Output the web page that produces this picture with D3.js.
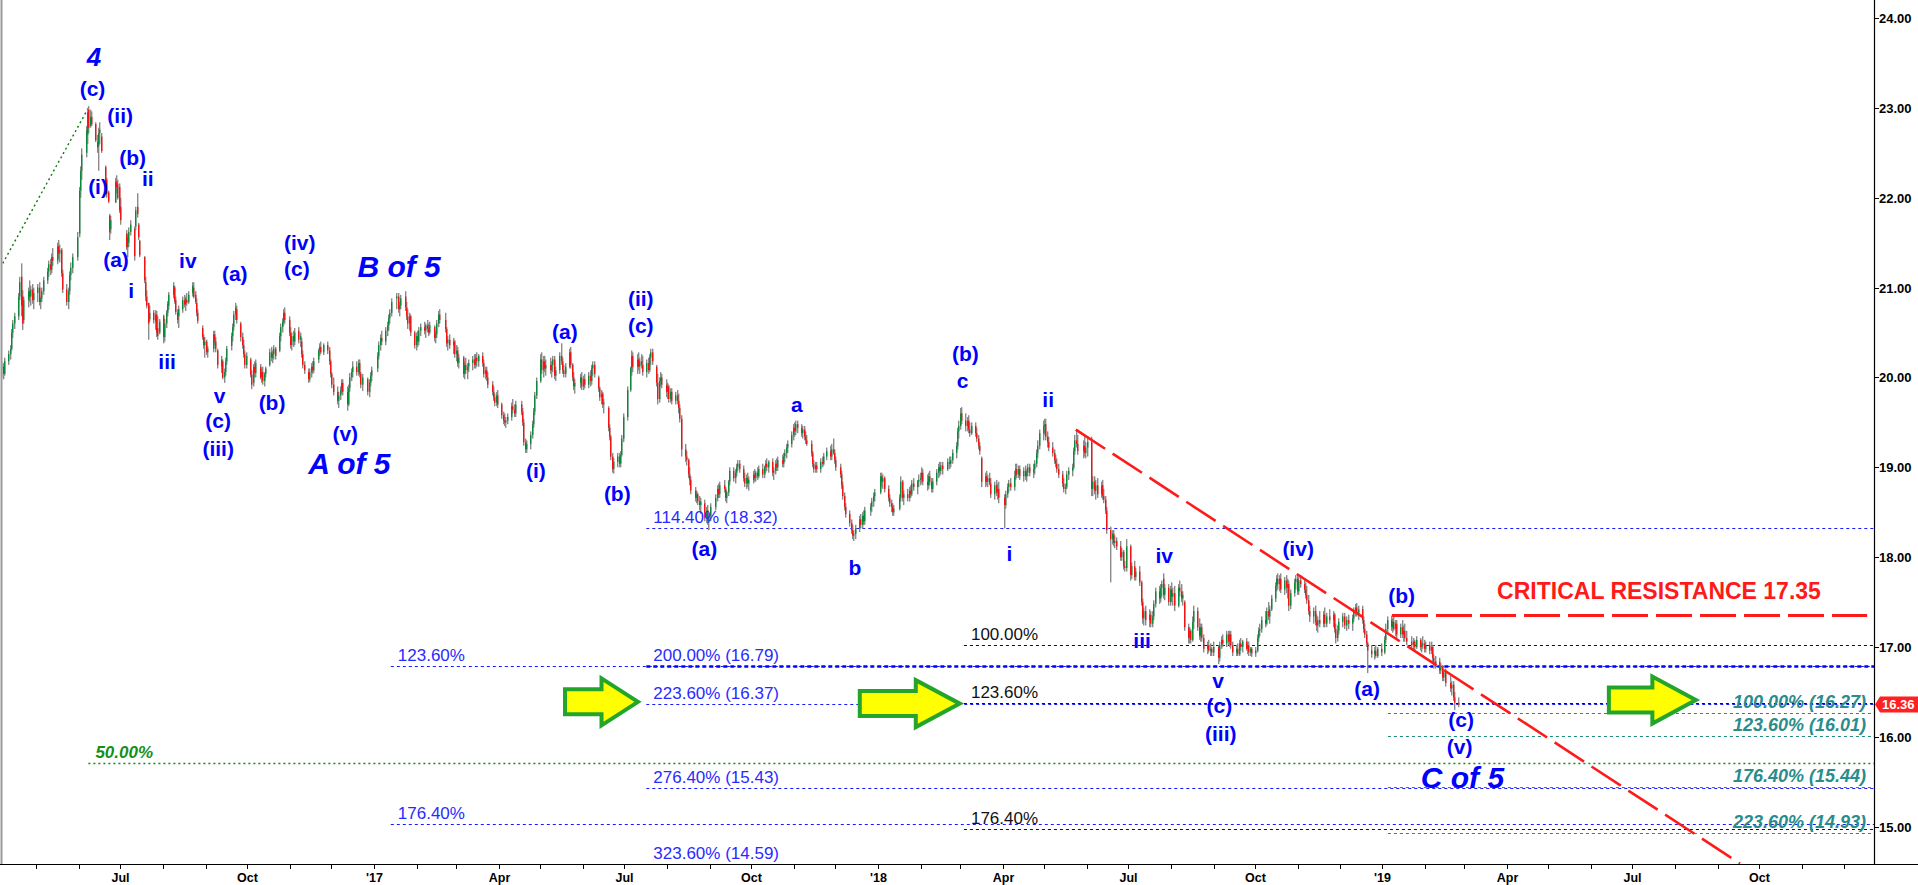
<!DOCTYPE html>
<html><head><meta charset="utf-8">
<script src="https://cdn.jsdelivr.net/npm/d3@7/dist/d3.min.js"></script>
<style>
html,body{margin:0;padding:0;background:#fff;overflow:hidden}
svg{display:block;font-family:"Liberation Sans",Arial,Helvetica,sans-serif}
</style></head><body>
<svg id="chart" width="1918" height="885"></svg>
<script>
// ===================== DATA =====================
// Daily bars [open, high, low, close] in cents above PRICE_BASE
const PRICE_BASE = 14;
const firstSession = "2016-04-06";
const holidays = ["2016-05-30","2016-07-04","2016-09-05","2016-11-24","2016-12-26",
 "2017-01-02","2017-01-16","2017-02-20","2017-04-14","2017-05-29","2017-07-04","2017-09-04","2017-11-23","2017-12-25",
 "2018-01-01","2018-01-15","2018-02-19","2018-03-30","2018-05-28","2018-07-04","2018-09-03","2018-11-22","2018-12-05","2018-12-25",
 "2019-01-01","2019-01-21","2019-02-18"];

const bars2016 = [
// Apr
[610,618,600,612],[612,616,598,604],[604,622,602,618],[618,630,614,626],[626,636,620,632],[632,654,630,650],[650,664,644,660],[660,672,654,668],[668,694,664,690],[690,712,686,706],[712,727,668,680],[690,697,653,660],[664,690,660,686],[686,700,678,696],[696,708,684,690],[690,702,680,698],[698,704,682,686],[686,700,676,694],
// May
[694,704,684,700],[700,706,680,684],[684,690,676,688],[688,700,684,696],[696,712,692,708],[708,722,704,718],[718,730,712,726],[726,732,714,720],[720,738,716,734],[734,744,724,730],[730,750,726,746],[746,753,732,738],[738,748,728,742],[742,744,712,716],[716,720,694,698],[698,704,680,684],[684,700,676,696],[696,718,692,714],[714,728,708,722],[722,738,716,734],[734,762,730,756],
// Jun
[760,812,756,808],[808,835,800,830],[830,855,820,848],[850,880,845,875],[870,900,860,895],[898,902,872,878],[880,898,878,890],[890,896,880,882],[882,884,862,864],[862,870,850,856],[858,878,830,872],[872,884,860,876],[868,872,850,852],[834,836,814,818],[820,822,800,804],[806,808,794,796],[780,782,753,762],[765,780,760,775],[795,822,794,818],[818,825,805,812],[815,820,798,800],[812,816,783,786],
// Jul
[790,800,770,775],[760,764,742,745],[745,760,734,756],[750,767,745,762],[762,775,758,770],[765,768,730,735],[768,790,764,786],[790,805,778,782],[770,772,753,756],[752,753,734,736],[734,735,705,708],[706,712,685,690],[690,697,677,680],[683,683,642,660],[665,680,662,672],[672,675,660,664],[662,675,653,670],[670,674,645,650],[655,668,642,646],[650,665,648,662],
// Aug
[668,670,638,645],[645,665,640,660],[660,675,655,672],[672,685,668,682],[680,695,675,692],[692,706,688,702],[700,702,682,685],[686,690,670,673],[672,676,660,664],[668,680,655,676],[676,690,672,686],[686,692,678,681],[682,690,674,688],[686,694,680,683],[684,696,682,692],[694,706,690,702],[700,706,688,690],[692,696,682,684],[683,688,668,672],[672,676,660,663],[655,658,642,645],[645,648,632,636],[636,645,622,640],
// Sep
[640,642,625,628],[628,635,622,632],[632,652,628,648],[648,652,636,640],[640,645,628,632],[630,632,610,614],[612,624,605,620],[618,620,598,600],[600,610,594,606],[606,622,602,618],[618,635,614,632],[635,650,630,646],[646,660,640,656],[656,674,652,670],[670,683,664,678],[676,680,660,664],[660,662,640,645],[645,650,632,636],[636,642,622,626],[626,630,610,614],[614,628,610,624],
// Oct
[620,622,600,603],[603,608,587,592],[594,615,590,612],[612,618,600,605],[605,620,600,616],[612,615,598,600],[600,610,594,606],[606,612,592,596],[596,606,590,604],[604,612,600,610],[614,632,612,628],[628,634,618,622],[622,630,616,626],[626,636,620,632],[632,634,620,624],[630,650,628,646],[646,660,640,656],[656,666,650,662],[662,676,658,672],[672,678,660,664],[664,668,646,650],
// Nov
[650,656,632,636],[636,650,630,646],[646,652,634,640],[640,655,636,650],[652,656,638,642],[642,650,634,646],[640,644,622,626],[626,630,610,614],[614,618,604,608],[606,610,594,598],[598,610,595,606],[606,616,600,612],[612,618,604,608],[608,622,605,618],[620,632,616,630],[630,638,624,634],[634,640,626,628],[628,638,625,636],[636,640,626,630],[630,634,614,618],[618,620,600,604],
// Dec
[604,606,588,592],[592,600,580,584],[584,590,570,574],[574,584,566,580],[580,590,575,586],[586,598,582,594],[594,598,580,584],[584,590,563,570],[570,592,568,588],[588,605,584,600],[600,610,596,606],[606,618,600,612],[612,618,602,606],[606,620,602,616],[616,620,600,604],[604,606,588,592],[592,604,585,600],[598,600,580,584],[584,598,578,594],[594,606,590,602],[602,612,596,608]
];

const bars2017 = [
// Jan
[610,628,606,624],[624,640,620,636],[636,648,630,644],[644,652,636,640],[640,656,636,652],[652,662,646,658],[658,670,652,666],[666,676,660,672],[672,688,668,684],[688,694,676,690],[690,694,672,676],[676,684,668,680],[680,692,676,688],[690,696,674,678],[678,684,664,668],[668,676,654,660],[660,672,652,668],[668,670,646,650],[650,652,632,636],[636,650,630,646],
// Feb
[646,652,634,640],[640,656,636,652],[652,660,646,656],[656,662,648,652],[652,660,644,658],[658,664,650,654],[654,660,646,650],[650,662,648,658],[656,658,640,644],[644,652,638,648],[648,664,644,660],[660,674,656,670],[670,676,660,664],[664,672,650,654],[654,656,634,638],[638,646,630,642],[642,648,632,636],[636,644,626,640],[640,642,622,626],
// Mar
[626,636,618,630],[630,634,612,616],[616,626,610,622],[622,624,600,604],[604,618,598,614],[614,622,604,608],[608,616,598,612],[612,620,606,616],[616,624,608,620],[620,626,610,614],[614,626,610,622],[622,628,612,618],[618,626,612,624],[624,628,612,616],[616,620,600,604],[604,612,598,608],[608,612,596,600],[600,606,588,592],[592,596,580,584],[584,590,574,578],[578,582,568,572],[572,584,568,580],[580,586,566,570],
// Apr
[570,572,554,558],[558,562,548,552],[552,560,546,550],[550,556,544,552],[552,560,548,556],[556,572,552,568],[568,576,560,564],[564,570,556,560],[560,574,556,570],[570,574,558,562],[562,566,546,550],[550,554,524,528],[528,532,516,520],[520,530,516,526],[526,540,520,536],[536,552,532,548],[548,566,544,562],[562,584,558,580],[580,600,576,596],
// May
[596,626,594,620],[620,628,604,608],[608,624,600,618],[618,624,606,610],[610,620,602,614],[614,622,604,608],[608,618,600,614],[614,624,606,620],[620,624,598,602],[602,612,596,608],[608,628,604,624],[624,638,614,618],[618,622,604,608],[608,614,600,604],[604,616,600,612],[612,632,610,628],[628,634,610,614],[614,616,596,600],[600,606,586,590],[590,598,582,594],[594,604,588,600],[600,606,586,590],
// Jun
[590,602,586,598],[598,604,588,592],[592,606,588,602],[602,608,590,596],[596,614,592,610],[610,618,602,614],[614,618,600,604],[600,602,584,588],[588,590,574,578],[578,586,570,582],[582,584,566,570],[570,576,560,572],[566,568,540,544],[544,548,530,534],[534,536,508,512],[512,516,494,498],[498,510,493,506],[506,516,500,512],[512,516,500,504],[504,518,500,514],[514,536,512,532],[532,560,528,556],
// Jul
[556,590,552,586],[586,612,584,610],[610,630,602,624],[624,628,606,612],[612,626,604,620],[620,628,608,612],[612,622,604,618],[618,626,610,614],[614,624,602,606],[606,620,600,616],[616,622,604,608],[608,626,606,622],[622,632,614,628],[628,632,614,618],[612,614,590,594],[594,604,570,576],[576,600,572,596],[596,606,590,600],[600,604,588,592],[592,598,578,584],
// Aug
[584,594,576,590],[590,592,572,576],[576,588,572,584],[584,588,570,574],[574,584,570,580],[580,586,570,574],[574,582,560,566],[566,570,550,554],[554,558,512,520],[520,526,506,512],[512,518,502,508],[508,510,488,492],[492,500,480,486],[486,490,470,474],[474,478,462,466],[466,474,460,470],[470,472,458,462],[462,468,452,458],[458,466,448,462],[460,464,440,444],[444,456,438,452],[452,458,436,440],[440,448,430,446],
// Sep
[446,460,440,456],[456,470,452,466],[466,480,462,476],[476,482,466,470],[470,484,466,480],[480,486,472,476],[476,478,462,466],[466,474,460,472],[472,486,468,484],[484,500,480,496],[496,500,484,488],[488,498,482,494],[494,504,490,500],[500,508,496,504],[504,508,494,498],[498,502,484,488],[488,494,478,482],[482,492,476,488],[488,494,478,482],[482,490,474,486],
// Oct
[486,496,482,492],[492,498,484,488],[488,496,484,494],[494,500,486,490],[490,502,488,498],[498,504,488,492],[492,502,488,500],[500,508,494,504],[504,510,496,500],[500,508,494,506],[506,510,490,494],[494,500,486,496],[496,508,492,504],[504,510,496,500],[500,512,496,508],[508,514,500,504],[504,516,500,512],[512,520,506,516],[516,526,510,522],[522,530,516,526],[526,540,522,536],[536,548,530,544],
// Nov
[544,550,534,540],[540,552,536,548],[548,552,538,544],[544,548,534,538],[538,546,532,542],[542,546,530,534],[534,540,526,530],[530,536,524,526],[526,530,512,516],[516,518,500,504],[504,508,494,498],[498,506,494,502],[502,506,494,498],[498,510,494,506],[506,512,500,504],[504,516,502,512],[512,522,508,518],[518,524,508,512],[512,526,508,520],[520,532,514,516],[516,520,504,508],
// Dec
[508,512,496,500],[500,504,488,492],[492,496,476,480],[480,484,464,468],[468,472,452,456],[456,460,444,448],[448,452,434,438],[438,442,426,430],[430,436,420,424],[424,430,418,426],[426,436,420,432],[432,446,428,442],[442,448,432,436],[436,450,432,446],[446,452,436,440],[440,456,436,452],[452,460,446,456],[456,466,450,462],[462,472,456,468],[468,476,462,472]
];

const bars2018 = [
// Jan
[472,494,470,490],[490,494,478,484],[484,492,476,488],[488,490,472,476],[476,480,462,466],[466,470,456,460],[460,464,450,456],[456,460,446,450],[450,458,446,454],[454,470,452,466],[466,490,462,484],[484,486,462,466],[466,474,458,470],[470,476,462,466],[466,478,462,474],[474,480,466,470],[470,486,468,482],[482,488,474,478],[478,486,470,484],[484,492,478,486],[486,494,480,488],
// Feb
[488,500,482,494],[494,498,480,484],[484,492,474,480],[480,494,476,490],[490,496,480,484],[484,488,472,476],[476,488,472,484],[484,498,480,494],[494,504,488,500],[500,506,490,496],[496,506,492,502],[502,506,492,498],[498,510,496,506],[506,512,498,504],[504,512,500,508],[508,520,504,516],[516,528,510,524],[524,544,520,540],[540,552,532,546],
// Mar
[546,566,542,560],[560,567,548,552],[552,560,540,546],[546,556,540,552],[552,558,538,542],[542,550,534,538],[538,550,536,546],[546,550,534,538],[538,544,528,532],[532,536,520,524],[524,528,514,518],[510,512,478,484],[484,494,478,490],[490,496,480,484],[484,492,478,488],[488,494,480,482],[482,488,466,470],[470,484,464,480],[480,486,468,472],[472,482,464,476],[476,484,460,466],
// Apr
[466,470,432,458],[458,474,454,470],[470,482,466,478],[478,486,472,482],[482,488,474,478],[478,496,474,490],[490,504,486,498],[498,504,488,492],[492,502,488,498],[498,502,486,490],[490,500,484,496],[496,502,486,490],[490,498,484,494],[494,504,490,500],[500,504,490,494],[494,504,488,498],[498,508,492,504],[504,520,500,516],[516,530,510,524],[524,542,520,538],[538,552,530,546],
// May
[546,554,536,548],[548,554,530,534],[534,540,522,528],[528,534,518,522],[522,528,512,516],[516,520,504,508],[508,514,500,504],[504,510,494,498],[498,504,488,492],[492,496,478,482],[482,488,472,476],[476,482,470,478],[478,496,476,492],[492,500,486,496],[496,504,490,500],[500,522,498,518],[518,536,514,530],[530,542,522,526],[526,536,514,518],[518,530,510,524],[524,534,512,516],[516,528,510,522],
// Jun
[522,534,512,528],[528,534,468,476],[476,490,468,484],[484,490,470,474],[474,486,464,480],[480,488,466,470],[470,484,466,480],[480,486,464,468],[468,476,460,464],[464,468,448,452],[452,456,426,430],[430,434,372,420],[420,430,414,426],[426,430,412,416],[416,424,410,418],[418,422,408,412],[412,418,396,400],[400,410,396,406],[406,408,386,390],[390,396,384,388],[388,420,384,412],
// Jul
[412,414,374,380],[380,394,376,390],[390,396,374,378],[378,388,374,384],[384,390,368,372],[372,374,346,350],[350,354,326,332],[332,344,324,340],[340,346,324,330],[330,342,322,336],[336,340,322,326],[326,340,322,334],[334,352,330,348],[348,366,344,362],[362,368,348,354],[354,370,350,366],[366,374,356,370],[376,382,354,358],[358,370,352,366],[366,370,346,350],[350,368,346,364],
// Aug
[364,372,350,356],[356,366,346,360],[360,368,340,346],[346,370,344,366],[366,374,356,362],[362,370,350,354],[354,362,346,358],[350,352,318,322],[322,326,304,310],[310,322,304,318],[318,320,304,308],[308,334,306,328],[328,346,320,340],[340,344,318,322],[322,332,308,312],[312,326,306,322],[322,326,306,310],[310,314,294,298],[298,306,292,302],[302,308,294,296],[296,304,290,298],[298,300,290,294],[294,306,290,300],
// Sep
[300,302,281,288],[288,306,284,302],[302,312,298,308],[308,314,300,304],[304,318,300,314],[314,318,302,306],[306,318,300,314],[314,318,298,302],[302,306,290,294],[294,302,290,298],[298,304,290,292],[292,308,290,304],[304,310,296,300],[300,308,294,306],[306,310,296,298],[298,306,292,302],[302,306,290,294],[294,300,290,298],[298,300,289,293],
// Oct
[293,300,289,296],[296,314,294,310],[310,322,306,318],[318,326,312,320],[320,334,316,330],[330,340,322,326],[326,344,324,340],[340,350,330,334],[334,346,326,342],[342,358,340,354],[354,372,350,368],[368,380,362,376],[376,382,364,370],[370,380,362,376],[376,382,360,364],[364,378,358,374],[374,380,360,366],[366,376,354,370],[370,374,340,346],[346,364,342,360],[360,376,356,372],[372,380,364,376],[376,380,358,362],
// Nov
[362,378,358,374],[374,380,366,370],[370,376,360,364],[364,372,354,358],[358,368,348,352],[352,358,336,340],[340,346,328,334],[334,344,326,340],[340,346,324,328],[328,336,318,324],[324,334,316,330],[330,340,322,326],[326,340,322,336],[336,344,322,326],[326,338,322,334],[334,342,326,330],[330,340,322,336],[336,338,316,320],[320,326,304,310],[310,324,306,318],[318,332,314,328],
// Dec
[328,338,322,334],[334,338,320,324],[324,334,318,330],[330,336,320,326],[326,336,318,332],[332,344,328,340],[340,348,334,344],[344,349,334,338],[338,346,330,342],[342,346,326,330],[330,334,316,320],[320,326,310,314],[314,318,300,304],[304,306,271,296],[296,302,288,292],[292,300,286,296],[296,302,288,290],[290,300,288,298],[298,304,290,294]
];

const bars2019 = [
// Jan
[294,312,292,308],[308,326,304,320],[320,334,316,330],[330,335,318,322],[322,332,316,328],[328,334,318,320],[320,330,312,326],[326,330,310,314],[314,326,310,322],[322,330,310,314],[314,324,306,318],[318,326,306,310],[310,318,302,306],[306,312,298,302],[302,310,296,306],[306,308,296,300],[300,312,298,308],[308,310,296,300],[300,306,294,302],[302,312,298,304],[304,308,294,298],
// Feb
[298,306,294,302],[302,306,292,296],[296,306,292,300],[300,302,284,288],[288,292,276,280],[280,290,276,284],[284,288,270,274],[274,282,270,278],[278,280,262,266],[266,276,262,272],[272,276,256,260],[260,268,250,254],[254,262,246,258],[258,262,240,244],[244,250,230,238],[238,244,233,236]
];

const yTickValues = [15,16,17,18,19,20,21,22,23,24];
const lastPrice = 16.36;

// Elliott wave labels: [text, date, price, style]
const waveLabels = [
 ["4","2016-06-12",23.57,"num"],["(c)","2016-06-11",23.22,"w"],["(ii)","2016-07-01",22.91,"w"],["(b)","2016-07-10",22.45,"w"],
 ["ii","2016-07-21",22.21,"w"],["(i)","2016-06-15",22.12,"w"],["(a)","2016-06-28",21.31,"w"],["i","2016-07-09",20.97,"w"],
 ["iv","2016-08-19",21.30,"w"],["iii","2016-08-04",20.18,"w"],["(a)","2016-09-22",21.16,"w"],["(iv)","2016-11-08",21.50,"w"],
 ["(c)","2016-11-06",21.21,"w"],["B of 5","2017-01-19",21.23,"big"],["v","2016-09-11",19.80,"w"],["(b)","2016-10-19",19.72,"w"],
 ["(c)","2016-09-10",19.52,"w"],["(iii)","2016-09-10",19.21,"w"],["(v)","2016-12-11",19.38,"w"],["A of 5","2016-12-14",19.04,"big"],
 ["(i)","2017-04-28",18.96,"w"],["(a)","2017-05-19",20.51,"w"],["(ii)","2017-07-13",20.88,"w"],["(c)","2017-07-13",20.58,"w"],
 ["(b)","2017-06-26",18.71,"w"],["a","2017-11-03",19.70,"w"],["(a)","2017-08-28",18.10,"w"],["b","2017-12-15",17.88,"w"],
 ["(b)","2018-03-05",20.27,"w"],["c","2018-03-03",19.97,"w"],["ii","2018-05-04",19.76,"w"],["i","2018-04-06",18.04,"w"],
 ["iv","2018-07-27",18.02,"w"],["iii","2018-07-11",17.07,"w"],["(iv)","2018-11-01",18.10,"w"],["v","2018-09-04",16.63,"w"],
 ["(c)","2018-09-05",16.35,"w"],["(iii)","2018-09-06",16.04,"w"],["(a)","2018-12-21",16.54,"w"],["(b)","2019-01-15",17.57,"w"],
 ["(c)","2019-02-27",16.19,"w"],["(v)","2019-02-26",15.89,"w"],["C of 5","2019-02-28",15.55,"big"]
];

// Fibonacci levels: [price, start date, set]
const fibLevels = [
 [18.32,"2017-07-17","blue"],[16.79,"2017-01-13","blue"],[16.79,"2017-07-17","blueHeavy"],[16.37,"2017-07-17","blue"],
 [15.43,"2017-07-17","blue"],[15.03,"2017-01-13","blue"],[14.59,"2017-07-17","blue"],
 [17.02,"2018-03-04","black"],[16.38,"2018-03-04","black"],[14.98,"2018-03-04","black"],
 [15.71,"2016-06-08","green"],
 [16.27,"2019-01-05","teal"],[16.01,"2019-01-05","teal"],[15.44,"2019-01-05","teal"],[14.93,"2019-01-05","teal"]
];
// Fibonacci texts: [text, start date, price, set]
const fibTexts = [
 ["114.40% (18.32)","2017-07-17",18.32,"blue"],["123.60%","2017-01-13",16.79,"blue"],["200.00% (16.79)","2017-07-17",16.79,"blue"],
 ["223.60% (16.37)","2017-07-17",16.37,"blue"],["276.40% (15.43)","2017-07-17",15.43,"blue"],["176.40%","2017-01-13",15.03,"blue"],
 ["323.60% (14.59)","2017-07-17",14.59,"blue"],
 ["100.00%","2018-03-04",17.02,"black"],["123.60%","2018-03-04",16.38,"black"],["176.40%","2018-03-04",14.98,"black"],
 ["50.00%","2016-06-08",15.71,"green"],
 ["100.00% (16.27)",null,16.27,"teal"],["123.60% (16.01)",null,16.01,"teal"],["176.40% (15.44)",null,15.44,"teal"],["223.60% (14.93)",null,14.93,"teal"]
];

const trendLine = [["2018-05-24",19.42],["2019-09-17",14.59]];
const startLine = [["2016-04-07",21.27],["2016-06-08",23.00]];
const resistance = {price:17.35, from:"2019-01-08", to:"2019-12-18", text:"CRITICAL RESISTANCE 17.35"};
// arrows: [tip date, tip price, length]
const arrows = [["2017-07-11",16.39,73],["2018-03-01",16.37,100],["2019-08-16",16.41,87]];

// ===================== CHART =====================
const W = 1918, H = 885, plotR = 1874, plotB = 864;
const svg = d3.select("#chart");
const parse = d3.timeParse("%Y-%m-%d");
const fmt = d3.timeFormat("%Y-%m-%d");

const x = d3.scaleTime().domain([new Date(2016,3,5), new Date(2019,11,23)]).range([0, plotR]);
const y = d3.scaleLinear().domain([14.585, 24.201]).range([plotB, 0]);

const allBars = [...bars2016, ...bars2017, ...bars2018, ...bars2019];
const hol = new Set(holidays);
const sessions = [];
let d = parse(firstSession);
while (sessions.length < allBars.length) {
  const wd = d.getDay();
  if (wd !== 0 && wd !== 6 && !hol.has(fmt(d))) sessions.push(new Date(d));
  d = d3.timeDay.offset(d, 1);
}
const data = allBars.map((b, i) => ({date: sessions[i], o: PRICE_BASE + b[0]/100, h: PRICE_BASE + b[1]/100, l: PRICE_BASE + b[2]/100, c: PRICE_BASE + b[3]/100}));

svg.append("rect").attr("width", W).attr("height", H).attr("fill", "#fff");
svg.append("defs").append("clipPath").attr("id", "plotclip").append("rect").attr("x", 0).attr("y", 0).attr("width", plotR).attr("height", plotB);

const plot = svg.append("g").attr("clip-path", "url(#plotclip)");

const fibStyle = {
  blue: {stroke: "#1a1aff", width: 1, dash: "3,3"},
  blueHeavy: {stroke: "#0000ff", width: 2.5, dash: "4,3"},
  black: {stroke: "#111", width: 1, dash: "3,3"},
  green: {stroke: "#138a13", width: 1.3, dash: "2,3"},
  teal: {stroke: "#1e8a78", width: 1, dash: "3,3"}
};
plot.selectAll("line.fib").data(fibLevels).join("line").attr("class", "fib")
  .attr("x1", f => x(parse(f[1]))).attr("x2", plotR)
  .attr("y1", f => Math.round(y(f[0])) + 0.5).attr("y2", f => Math.round(y(f[0])) + 0.5)
  .attr("stroke", f => fibStyle[f[2]].stroke).attr("stroke-width", f => fibStyle[f[2]].width)
  .attr("stroke-dasharray", f => fibStyle[f[2]].dash);

// green dotted start line
plot.append("line").attr("x1", x(parse(startLine[0][0]))).attr("y1", y(startLine[0][1]))
  .attr("x2", x(parse(startLine[1][0]))).attr("y2", y(startLine[1][1]))
  .attr("stroke", "#0a7a0a").attr("stroke-width", 1.4).attr("stroke-dasharray", "2,3");

// bars
const bx = dd => Math.round(x(dd.date));
plot.selectAll("rect.wick").data(data).join("rect").attr("class", "wick")
  .attr("x", bx).attr("width", 1.4)
  .attr("y", dd => y(dd.h)).attr("height", dd => Math.max(1, y(dd.l) - y(dd.h)))
  .attr("fill", "#8a8a8a");
plot.selectAll("rect.body").data(data).join("rect").attr("class", "body")
  .attr("x", bx).attr("width", 1.4)
  .attr("y", dd => y(Math.max(dd.o, dd.c))).attr("height", dd => Math.max(1, Math.abs(y(dd.o) - y(dd.c))))
  .attr("fill", dd => dd.c >= dd.o ? "#0b8a3a" : "#f01414");

// trend line
plot.append("line").attr("x1", x(parse(trendLine[0][0]))).attr("y1", y(trendLine[0][1]))
  .attr("x2", x(parse(trendLine[1][0]))).attr("y2", y(trendLine[1][1]))
  .attr("stroke", "#ff1a1a").attr("stroke-width", 2.6).attr("stroke-dasharray", "35,9");

// resistance
plot.append("line").attr("x1", x(parse(resistance.from))).attr("x2", x(parse(resistance.to)))
  .attr("y1", y(resistance.price)).attr("y2", y(resistance.price))
  .attr("stroke", "#ff1a1a").attr("stroke-width", 3).attr("stroke-dasharray", "36,8");
svg.append("text").attr("x", 1659).attr("y", y(resistance.price) - 17)
  .attr("text-anchor", "middle").attr("font-size", 23).attr("font-weight", "bold").attr("fill", "#ff1a1a")
  .text(resistance.text);

// arrows
const arrowG = svg.append("g");
arrows.forEach(a => {
  const tx = x(parse(a[0])), ty = y(a[1]), L = a[2];
  const head = Math.min(44, L * 0.5), sh = 12.5, hh = 23.5;
  const p = `M${tx},${ty} L${tx-head},${ty-hh} L${tx-head},${ty-sh} L${tx-L},${ty-sh} L${tx-L},${ty+sh} L${tx-head},${ty+sh} L${tx-head},${ty+hh} Z`;
  arrowG.append("path").attr("d", p).attr("fill", "#ffff00").attr("stroke", "#22a52a").attr("stroke-width", 4).attr("stroke-linejoin", "miter");
});

// fib texts
const fibTextStyle = {
  blue: {fill: "#2a2aff", weight: "normal", style: "normal", size: 17},
  black: {fill: "#111", weight: "normal", style: "normal", size: 17},
  green: {fill: "#14901a", weight: "bold", style: "italic", size: 17},
  teal: {fill: "#2a8c8c", weight: "bold", style: "italic", size: 18}
};
svg.selectAll("text.fibt").data(fibTexts).join("text").attr("class", "fibt")
  .attr("x", t => t[1] ? x(parse(t[1])) + 7 : 1866)
  .attr("y", t => y(t[2]) - 5)
  .attr("text-anchor", t => t[1] ? "start" : "end")
  .attr("font-size", t => fibTextStyle[t[3]].size)
  .attr("font-weight", t => fibTextStyle[t[3]].weight)
  .attr("font-style", t => fibTextStyle[t[3]].style)
  .attr("fill", t => fibTextStyle[t[3]].fill)
  .text(t => t[0]);

// wave labels
const waveStyle = {w: {size: 21, style: "normal"}, big: {size: 30, style: "italic"}, num: {size: 26, style: "italic"}};
svg.selectAll("text.wave").data(waveLabels).join("text").attr("class", "wave")
  .attr("x", w => x(parse(w[1]))).attr("y", w => y(w[2]))
  .attr("text-anchor", "middle").attr("dominant-baseline", "central")
  .attr("font-size", w => waveStyle[w[3]].size).attr("font-style", w => waveStyle[w[3]].style)
  .attr("font-weight", "bold").attr("fill", "#0000ff")
  .text(w => w[0]);

// frame: left border, axes
svg.append("line").attr("x1", 1.5).attr("x2", 1.5).attr("y1", 0).attr("y2", plotB).attr("stroke", "#9a9a9a").attr("stroke-width", 2);
svg.append("line").attr("x1", 0).attr("x2", W).attr("y1", plotB + 0.5).attr("y2", plotB + 0.5).attr("stroke", "#000").attr("stroke-width", 1.2);
svg.append("line").attr("x1", plotR + 0.5).attr("x2", plotR + 0.5).attr("y1", 0).attr("y2", plotB).attr("stroke", "#000").attr("stroke-width", 1.2);

// y axis
const yAxisG = svg.append("g");
yTickValues.forEach(v => {
  const yy = Math.round(y(v)) + 0.5;
  yAxisG.append("line").attr("x1", plotR).attr("x2", plotR + 5).attr("y1", yy).attr("y2", yy).attr("stroke", "#000");
  yAxisG.append("text").attr("x", plotR + 5).attr("y", yy).attr("dominant-baseline", "central")
    .attr("font-size", 13).attr("font-weight", "bold").attr("fill", "#000").text(d3.format(".2f")(v));
});

// last price tag
const ly = y(lastPrice);
svg.append("path").attr("d", `M${plotR+1},${ly} L${plotR+6},${ly-8} L${W},${ly-8} L${W},${ly+8} L${plotR+6},${ly+8} Z`).attr("fill", "#ff2020");
svg.append("text").attr("x", plotR + 8).attr("y", ly).attr("dominant-baseline", "central")
  .attr("font-size", 13).attr("font-weight", "bold").attr("fill", "#fff").text(d3.format(".2f")(lastPrice));

// x axis
const months = d3.timeMonth.range(new Date(2016,4,1), new Date(2019,11,2));
const xAxisG = svg.append("g");
months.forEach(m => {
  const xx = Math.round(x(m)) + 0.5;
  xAxisG.append("line").attr("x1", xx).attr("x2", xx).attr("y1", plotB).attr("y2", plotB + 5).attr("stroke", "#000");
  if (m.getMonth() % 3 === 0) {
    const lab = m.getMonth() === 0 ? "'" + d3.timeFormat("%y")(m) : d3.timeFormat("%b")(m);
    xAxisG.append("text").attr("x", xx).attr("y", 882).attr("text-anchor", "middle")
      .attr("font-size", 12.5).attr("font-weight", "bold").attr("fill", "#000").text(lab);
  }
});
</script>
</body></html>
